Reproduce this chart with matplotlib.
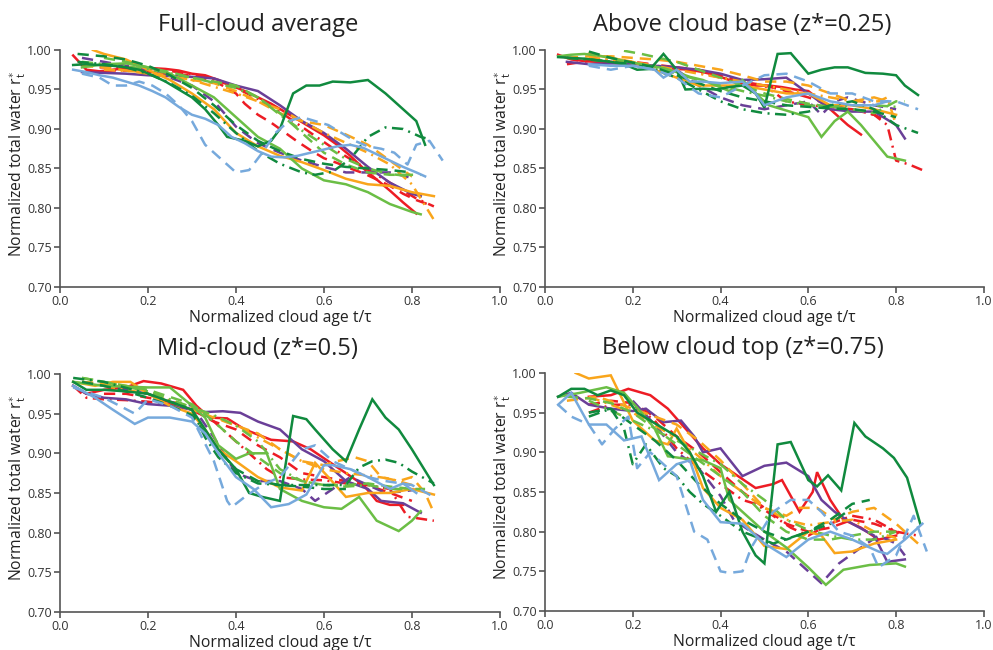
import numpy as np
import matplotlib
matplotlib.use("Agg")
import matplotlib.pyplot as plt

plt.rcParams['font.family'] = ['Open Sans', 'DejaVu Sans']
plt.rcParams['mathtext.fontset'] = 'custom'
plt.rcParams['mathtext.rm'] = 'Open Sans'
plt.rcParams['mathtext.it'] = 'Open Sans'

# line order in every panel (colour, style)
line_keys = [('red', 'solid'), ('red', 'dash'), ('red', 'dashdot'),
             ('purple', 'solid'), ('purple', 'dash'),
             ('orange', 'solid'), ('orange', 'dash'), ('orange', 'dashdot'),
             ('lgreen', 'solid'), ('lgreen', 'dash'), ('lgreen', 'dashdot'),
             ('dgreen', 'solid'), ('dgreen', 'dash'), ('dgreen', 'dashdot'),
             ('lblue', 'solid'), ('lblue', 'dash')]

titles = ['Full-cloud average', 'Above cloud base (z*=0.25)',
          'Mid-cloud (z*=0.5)', 'Below cloud top (z*=0.75)']

# ---------- Full-cloud average ----------
full_t = [
    [.03,.06,.09,.12,.15,.18,.21,.24,.27,.30,.33,.36,.39,.42,.45,.48,.51,.54,.57,.60,.63,.66,.69,.72,.75,.78,.81],
    [.06,.12,.18,.24,.30,.36,.40,.42,.45,.48,.51,.54,.57,.60,.63,.66,.69,.72,.75,.78,.81,.84],
    [.09,.15,.21,.27,.33,.39,.45,.51,.57,.63,.69,.75,.81,.85],
    [.05,.1,.15,.2,.25,.3,.35,.4,.45,.5,.55,.6,.65,.7,.75,.8,.82],
    [.05,.1,.15,.2,.25,.3,.35,.4,.45,.5,.55,.6,.65,.7,.75,.8],
    [.075,.1,.15,.2,.25,.3,.35,.4,.45,.5,.55,.6,.65,.7,.75,.8,.85],
    [.05,.1,.15,.2,.25,.3,.35,.4,.45,.5,.55,.6,.65,.7,.75,.8],
    [.1,.2,.3,.4,.5,.6,.7,.75,.8,.85],
    [.05,.1,.15,.2,.25,.3,.35,.4,.45,.5,.55,.6,.65,.7,.75,.8,.82],
    [.1,.15,.2,.25,.3,.35,.4,.45,.5,.55,.6,.65,.7,.75,.8,.82],
    [.05,.1,.2,.3,.4,.45,.5,.55,.6,.65,.7,.75,.8],
    [.03,.06,.09,.12,.15,.18,.21,.24,.27,.30,.33,.36,.38,.42,.45,.48,.50,.53,.56,.59,.62,.66,.70,.74,.78,.81,.83],
    [.04,.1,.15,.2,.25,.3,.35,.4,.45,.5,.55,.6,.65,.7,.75,.8],
    [.04,.1,.15,.2,.25,.3,.35,.4,.45,.5,.55,.58,.62,.66,.70,.74,.78,.82,.84],
    [.03,.06,.09,.12,.15,.18,.21,.24,.27,.30,.33,.36,.39,.42,.45,.48,.51,.54,.57,.60,.63,.66,.69,.72,.75,.78,.81,.83],
    [.05,.09,.12,.15,.18,.21,.24,.27,.30,.33,.36,.40,.43,.46,.49,.52,.55,.58,.61,.64,.67,.70,.73,.76,.79,.81,.84,.87],
]
full_r = [
    [.993,.975,.973,.975,.977,.977,.977,.976,.974,.970,.968,.962,.955,.948,.940,.932,.922,.912,.902,.892,.880,.866,.850,.836,.822,.807,.793],
    [.972,.974,.974,.970,.968,.958,.945,.932,.918,.908,.896,.884,.873,.863,.857,.850,.844,.836,.828,.818,.810,.804],
    [.978,.978,.976,.972,.966,.955,.938,.918,.895,.872,.852,.832,.812,.802],
    [.972,.971,.970,.968,.967,.966,.964,.955,.948,.930,.910,.895,.875,.852,.832,.818,.815],
    [.990,.985,.980,.975,.965,.955,.935,.903,.882,.870,.860,.852,.845,.845,.845,.838],
    [1.0,.995,.988,.975,.962,.945,.925,.895,.878,.866,.858,.848,.837,.830,.828,.820,.815],
    [.980,.978,.974,.970,.966,.962,.958,.948,.935,.920,.910,.905,.893,.880,.860,.840],
    [.975,.972,.962,.945,.925,.895,.870,.855,.830,.785],
    [.978,.982,.983,.978,.970,.955,.940,.915,.890,.875,.850,.835,.830,.820,.805,.795,.792],
    [.990,.985,.978,.972,.965,.960,.955,.940,.920,.895,.870,.855,.845,.842,.842,.842],
    [.985,.982,.976,.965,.952,.940,.918,.898,.880,.862,.850,.843,.840],
    [.981,.982,.981,.980,.978,.975,.968,.960,.950,.940,.925,.905,.890,.885,.878,.885,.900,.945,.955,.955,.960,.959,.962,.945,.925,.910,.880],
    [.995,.992,.988,.980,.968,.952,.930,.905,.885,.872,.862,.856,.852,.850,.848,.845],
    [.985,.982,.978,.970,.958,.942,.920,.895,.872,.856,.845,.842,.846,.862,.890,.902,.900,.890,.887],
    [.975,.972,.968,.965,.960,.955,.948,.940,.928,.918,.913,.905,.890,.882,.872,.865,.864,.866,.870,.874,.878,.880,.876,.868,.860,.852,.845,.840],
    [.970,.965,.955,.955,.960,.955,.945,.930,.910,.880,.865,.845,.848,.870,.895,.910,.915,.910,.905,.895,.885,.878,.875,.870,.855,.880,.885,.860],
]

# ---------- Above cloud base ----------
base_t = [
    [.03,.06,.09,.12,.15,.18,.21,.24,.27,.30,.33,.36,.39,.42,.45,.48,.51,.54,.57,.60,.63,.66,.69,.72],
    [.05,.1,.15,.2,.25,.3,.35,.4,.45,.5,.55,.6,.65,.7,.75,.78],
    [.1,.2,.3,.4,.5,.55,.6,.65,.7,.75,.78,.80,.83,.86],
    [.05,.1,.15,.2,.25,.3,.35,.4,.45,.5,.55,.6,.65,.7,.75,.8,.82],
    [.3,.35,.4,.45,.5,.55,.6,.63,.66,.69,.72,.75,.8],
    [.1,.15,.2,.25,.3,.35,.4,.45,.5,.55,.6,.65,.7,.75,.8],
    [.05,.1,.15,.2,.25,.3,.35,.4,.45,.5,.55,.6,.65,.7,.75,.78],
    [.1,.2,.3,.4,.5,.6,.7,.76,.78,.80],
    [.03,.06,.09,.12,.15,.18,.21,.24,.27,.30,.33,.36,.39,.42,.45,.48,.51,.54,.57,.60,.63,.66,.69,.72,.75,.78,.82],
    [.18,.22,.26,.3,.35,.4,.45,.5,.55,.6,.65,.7,.75,.8,.82],
    [.05,.1,.15,.2,.25,.3,.35,.4,.45,.5,.55,.6,.65,.7,.75,.8],
    [.03,.06,.09,.12,.15,.18,.21,.24,.27,.30,.32,.36,.39,.42,.45,.48,.50,.53,.56,.60,.63,.66,.69,.73,.77,.80,.82,.85],
    [.1,.15,.2,.25,.3,.35,.4,.45,.5,.55,.6,.65,.7,.75,.8],
    [.05,.1,.15,.2,.25,.3,.35,.4,.45,.5,.55,.6,.65,.7,.75,.8,.85],
    [.1,.15,.2,.25,.27,.30,.33,.36,.40,.45,.48,.50,.55,.60,.65,.70,.75,.78],
    [.1,.15,.2,.25,.3,.35,.4,.45,.5,.55,.6,.65,.7,.75,.8,.85],
]
base_r = [
    [.994,.988,.986,.985,.984,.983,.982,.980,.978,.976,.975,.972,.968,.962,.958,.955,.955,.953,.950,.948,.935,.920,.905,.893],
    [.982,.986,.985,.983,.980,.978,.975,.968,.960,.955,.948,.940,.930,.925,.918,.910],
    [.990,.985,.978,.965,.955,.935,.930,.928,.925,.918,.905,.860,.855,.848],
    [.985,.982,.983,.983,.980,.978,.975,.970,.962,.963,.965,.945,.925,.922,.922,.905,.888],
    [.975,.955,.940,.930,.925,.930,.935,.918,.935,.940,.935,.930,.925],
    [.995,.990,.985,.975,.965,.955,.955,.955,.950,.945,.945,.930,.930,.925,.918],
    [.990,.992,.992,.990,.988,.985,.980,.975,.968,.960,.960,.955,.945,.935,.940,.935],
    [.990,.985,.975,.965,.955,.945,.935,.935,.940,.905],
    [.992,.994,.995,.993,.990,.986,.983,.980,.977,.972,.966,.962,.955,.948,.962,.945,.930,.925,.920,.915,.890,.910,.922,.905,.885,.865,.860],
    [.999,.995,.990,.985,.975,.965,.955,.945,.938,.932,.928,.925,.920,.935,.935],
    [.990,.988,.985,.982,.978,.970,.962,.955,.948,.942,.935,.930,.928,.930,.930,.928],
    [.991,.990,.989,.987,.985,.982,.975,.976,.995,.975,.950,.951,.950,.953,.955,.945,.927,.995,.996,.970,.975,.978,.978,.971,.970,.968,.955,.943],
    [.998,.990,.984,.978,.968,.958,.948,.940,.935,.930,.928,.926,.925,.922,.915],
    [.990,.988,.985,.982,.975,.965,.950,.935,.925,.920,.918,.922,.930,.935,.925,.905,.895],
    [.982,.980,.980,.975,.965,.975,.960,.960,.958,.960,.945,.930,.940,.945,.935,.930,.930,.935],
    [.980,.975,.980,.975,.965,.945,.940,.955,.968,.970,.960,.945,.945,.935,.935,.925],
]

# ---------- Mid-cloud ----------
mid_t = [
    [.03,.06,.1,.15,.19,.23,.28,.31,.34,.38,.42,.48,.53,.57,.61,.65,.69,.72,.75,.78],
    [.1,.15,.2,.25,.3,.35,.4,.45,.5,.55,.6,.65,.7,.75,.8],
    [.03,.06,.1,.15,.2,.25,.3,.35,.38,.42,.47,.5,.55,.6,.65,.7,.75,.79,.85],
    [.03,.06,.1,.15,.2,.25,.3,.33,.37,.41,.45,.5,.55,.6,.65,.7,.73,.78,.82],
    [.05,.1,.15,.2,.25,.3,.35,.4,.45,.5,.55,.58,.62,.66,.7,.74,.78,.82],
    [.03,.08,.12,.16,.2,.25,.3,.33,.36,.4,.45,.5,.55,.58,.61,.65,.7,.75,.8,.85],
    [.05,.1,.15,.2,.25,.3,.35,.4,.45,.5,.55,.6,.63,.67,.7,.73,.77,.8,.83,.85],
    [.1,.2,.3,.4,.5,.55,.6,.65,.7,.75,.8],
    [.03,.1,.15,.2,.25,.3,.33,.36,.4,.43,.47,.5,.55,.6,.64,.68,.72,.77,.8,.82],
    [.05,.1,.2,.3,.35,.4,.45,.5,.55,.6,.65,.7,.75,.8],
    [.05,.1,.2,.3,.35,.4,.45,.5,.55,.6,.65,.7,.75,.8,.83],
    [.03,.06,.10,.15,.20,.25,.30,.33,.36,.40,.43,.46,.50,.53,.56,.58,.62,.65,.68,.71,.74,.77,.80,.85],
    [.05,.1,.15,.2,.25,.3,.35,.4,.45,.5,.55,.6,.65],
    [.03,.1,.2,.3,.33,.36,.4,.45,.5,.55,.6,.65,.68,.71,.74,.77,.8,.85],
    [.03,.08,.12,.17,.2,.25,.3,.33,.36,.4,.44,.48,.52,.56,.6,.62,.66,.7,.75,.78,.81],
    [.03,.1,.17,.2,.25,.3,.35,.38,.39,.42,.46,.5,.55,.58,.62,.66,.7,.74,.8,.85],
]
mid_r = [
    [.985,.975,.980,.983,.991,.988,.980,.960,.945,.944,.930,.917,.915,.905,.890,.875,.860,.840,.835,.835],
    [.975,.975,.970,.965,.955,.940,.930,.910,.895,.875,.870,.865,.860,.850,.840],
    [.985,.970,.968,.967,.965,.962,.955,.940,.925,.905,.880,.870,.867,.866,.862,.860,.855,.820,.815],
    [.985,.975,.970,.968,.962,.960,.955,.952,.953,.951,.940,.930,.905,.890,.865,.855,.840,.837,.825],
    [.990,.985,.980,.975,.965,.960,.920,.875,.865,.865,.855,.840,.855,.870,.860,.850,.852,.855],
    [.990,.985,.990,.990,.975,.960,.950,.930,.905,.890,.870,.857,.853,.888,.870,.845,.850,.850,.855,.848],
    [.990,.988,.985,.978,.965,.955,.945,.935,.925,.905,.890,.885,.890,.895,.890,.870,.865,.870,.850,.825],
    [.985,.975,.958,.935,.905,.890,.880,.875,.872,.868,.860],
    [.990,.985,.984,.983,.983,.960,.945,.910,.893,.900,.900,.855,.840,.832,.830,.845,.815,.802,.815,.827],
    [.995,.990,.980,.962,.940,.915,.895,.875,.865,.860,.860,.862,.858,.855],
    [.995,.990,.978,.958,.948,.935,.915,.880,.865,.860,.858,.860,.855,.855,.855],
    [.990,.980,.980,.978,.975,.965,.955,.930,.905,.880,.850,.845,.840,.947,.943,.930,.905,.890,.930,.968,.945,.930,.905,.860],
    [.990,.985,.978,.970,.960,.948,.910,.880,.865,.860,.858,.855,.855],
    [.995,.990,.975,.955,.920,.895,.875,.862,.860,.860,.860,.860,.882,.890,.892,.888,.877,.862],
    [.985,.970,.955,.937,.945,.945,.940,.925,.900,.870,.855,.832,.836,.848,.885,.885,.880,.870,.855,.862,.850],
    [.983,.970,.950,.968,.960,.945,.890,.840,.832,.845,.860,.870,.905,.910,.890,.880,.870,.865,.860,.845],
]

# ---------- Below cloud top ----------
top_t = [
    [.1,.15,.19,.24,.28,.32,.36,.4,.44,.48,.52,.54,.58,.61,.62,.65,.68,.72,.76,.8],
    [.1,.15,.2,.25,.3,.35,.4,.45,.5,.55,.6,.65,.7,.75,.8,.82],
    [.1,.15,.2,.25,.3,.35,.4,.45,.48,.52,.56,.6,.65,.7,.75,.8,.85],
    [.03,.06,.1,.15,.2,.23,.27,.31,.34,.36,.4,.45,.5,.55,.6,.63,.66,.7,.75,.78,.82],
    [.2,.25,.3,.35,.4,.43,.47,.5,.55,.6,.63,.67,.72,.76,.8,.82],
    [.07,.1,.15,.2,.25,.28,.3,.33,.36,.4,.45,.5,.55,.6,.63,.66,.7,.75,.8],
    [.05,.12,.2,.3,.35,.4,.45,.5,.55,.58,.62,.66,.7,.75,.8,.85],
    [.1,.2,.3,.35,.4,.45,.5,.55,.6,.65,.7,.75,.8],
    [.03,.08,.14,.18,.22,.25,.28,.32,.36,.4,.42,.45,.5,.55,.6,.64,.68,.74,.8,.82],
    [.05,.1,.15,.2,.25,.3,.35,.4,.45,.5,.55,.6,.65,.7,.75,.8],
    [.1,.2,.3,.35,.4,.45,.5,.55,.6,.65,.7,.75,.8],
    [.03,.06,.09,.12,.15,.18,.21,.24,.27,.30,.33,.36,.39,.42,.45,.48,.50,.53,.56,.60,.62,.645,.675,.705,.73,.77,.795,.825,.855],
    [.1,.15,.2,.25,.3,.35,.4,.45,.5,.55,.6,.65,.7,.74],
    [.1,.15,.18,.2,.23,.27,.3,.33,.36,.4,.45,.52,.6,.65,.7],
    [.03,.06,.1,.14,.18,.22,.26,.3,.33,.36,.4,.45,.5,.55,.6,.65,.7,.76,.78,.82,.86],
    [.03,.06,.1,.13,.16,.19,.21,.24,.3,.34,.37,.4,.42,.45,.47,.52,.56,.6,.63,.67,.7,.74,.76,.8,.84,.87],
]
top_r = [
    [.970,.972,.980,.972,.955,.930,.905,.885,.870,.855,.860,.865,.825,.850,.875,.840,.815,.805,.790,.795],
    [.960,.965,.962,.945,.920,.900,.875,.850,.830,.810,.800,.805,.815,.810,.800,.790],
    [.950,.960,.960,.940,.905,.880,.860,.840,.835,.820,.805,.795,.810,.820,.815,.800,.795],
    [.970,.975,.960,.955,.952,.955,.938,.940,.920,.900,.905,.870,.883,.887,.870,.840,.825,.810,.795,.762,.765],
    [.965,.935,.900,.880,.845,.815,.800,.790,.775,.750,.735,.760,.780,.795,.785,.770],
    [1.0,.993,.997,.940,.915,.910,.930,.900,.855,.830,.815,.782,.778,.800,.795,.773,.775,.785,.790],
    [.965,.970,.955,.935,.915,.890,.860,.830,.820,.830,.830,.815,.825,.830,.810,.785],
    [.970,.950,.918,.895,.870,.850,.830,.815,.808,.812,.815,.800,.792],
    [.970,.975,.982,.975,.950,.930,.895,.892,.890,.880,.840,.825,.800,.780,.755,.733,.752,.758,.760,.756],
    [.970,.968,.962,.950,.930,.910,.890,.870,.850,.820,.800,.790,.790,.795,.800,.800],
    [.965,.940,.915,.900,.885,.860,.840,.815,.802,.795,.790,.790,.800],
    [.970,.980,.980,.972,.978,.972,.950,.940,.930,.920,.900,.870,.825,.850,.800,.770,.760,.910,.913,.865,.857,.871,.852,.937,.920,.905,.893,.868,.810],
    [.950,.955,.935,.915,.890,.860,.835,.815,.800,.790,.800,.815,.835,.840],
    [.945,.955,.930,.885,.910,.880,.870,.850,.835,.820,.800,.785,.800,.810,.830],
    [.960,.975,.935,.935,.915,.920,.865,.885,.890,.840,.812,.810,.785,.768,.790,.800,.790,.775,.772,.790,.810],
    [.960,.945,.935,.910,.930,.945,.880,.900,.870,.800,.790,.750,.748,.750,.780,.825,.840,.840,.825,.800,.795,.780,.755,.770,.820,.775],
]

palette = {'red': '#ED1C24', 'purple': '#6A3F98', 'orange': '#F9A51B',
           'lgreen': '#6BBE45', 'dgreen': '#108A3E', 'lblue': '#76A9DC'}
dashes = {'solid': '-', 'dash': (0, (4.5, 2.8)), 'dashdot': (0, (4.5, 2.2, 0.8, 2.2))}

panels = [(full_t, full_r), (base_t, base_r), (mid_t, mid_r), (top_t, top_r)]
# axes boxes in figure fractions [left, bottom, width, height]
boxes = [[0.0604, 0.5585, 0.443, 0.3646], [0.5488, 0.5585, 0.442, 0.3646],
         [0.0604, 0.0585, 0.443, 0.3662], [0.5488, 0.060, 0.442, 0.3662]]

fig = plt.figure(figsize=(9.93, 6.5), dpi=100)
for k in range(4):
    ax = fig.add_axes(boxes[k])
    ts, rs = panels[k]
    for n, (c, s) in enumerate(line_keys):
        ax.plot(ts[n], rs[n], color=palette[c], linestyle=dashes[s], lw=1.8,
                solid_joinstyle='miter')
    ax.set_xlim(0, 1.0)
    ax.set_ylim(0.70, 1.00)
    ax.set_xticks([0.0, 0.2, 0.4, 0.6, 0.8, 1.0])
    ax.set_yticks([0.70, 0.75, 0.80, 0.85, 0.90, 0.95, 1.00])
    ax.xaxis.set_major_formatter(plt.FormatStrFormatter('%.1f'))
    ax.yaxis.set_major_formatter(plt.FormatStrFormatter('%.2f'))
    for side in ['top', 'right']:
        ax.spines[side].set_visible(False)
    for side in ['left', 'bottom']:
        ax.spines[side].set_color('#555555')
        ax.spines[side].set_linewidth(1.2)
    ax.tick_params(direction='out', length=4, width=1.2, color='#555555',
                   labelsize=9, labelcolor='#333333', pad=2)
    ax.set_xlabel('Normalized cloud age t/\u03c4', fontsize=11.3, color='#222222', labelpad=1)
    ax.set_ylabel(r'Normalized total water r$_\mathregular{t}^{\ast}$',
                  fontsize=11.3, color='#222222')
    ax.yaxis.set_label_coords(-0.072, 0.52)
    ax.set_title(titles[k], fontsize=17, color='#222222', x=0.45, pad=14)

fig.savefig('out.png', dpi=100)
